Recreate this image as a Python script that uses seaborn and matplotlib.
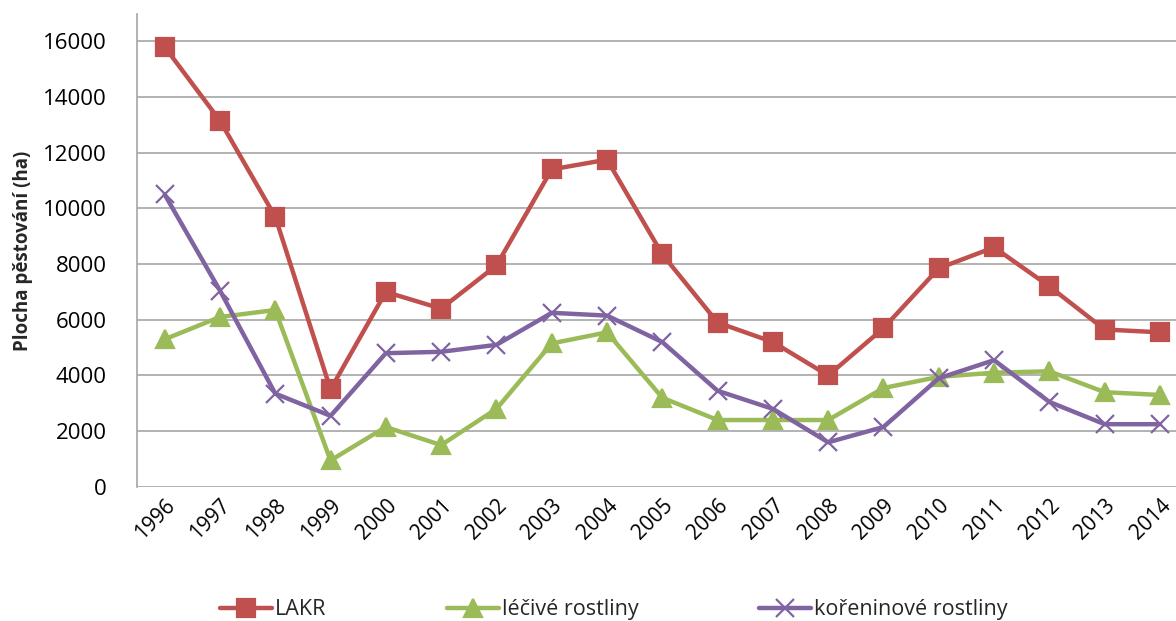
import pandas as pd
import matplotlib.pyplot as plt
import seaborn as sns

# data
years = [str(y) for y in range(1996, 2015)]
lakr = [15800, 13150, 9700, 3500, 7000, 6400, 7950, 11400, 11750, 8350,
        5900, 5200, 4000, 5700, 7850, 8600, 7200, 5650, 5550]
lecive = [5300, 6100, 6350, 950, 2150, 1500, 2800, 5150, 5550, 3200,
          2400, 2400, 2400, 3550, 3950, 4100, 4150, 3400, 3300]
koreninove = [10500, 7050, 3350, 2550, 4800, 4850, 5100, 6250, 6150, 5200,
              3450, 2800, 1600, 2150, 3900, 4550, 3050, 2250, 2250]
series_names = ["LAKR", "léčivé rostliny", "kořeninové rostliny"]
y_ticks = list(range(0, 16001, 2000))

sns.set_theme(style="white")
plt.rcParams["font.family"] = ["Open Sans", "DejaVu Sans"]

colors = {"LAKR": "#C0504D", "léčivé rostliny": "#9BBB59", "kořeninové rostliny": "#8064A2"}
marks = {"LAKR": "s", "léčivé rostliny": "^", "kořeninové rostliny": "x"}
msize = {"LAKR": 15, "léčivé rostliny": 16, "kořeninové rostliny": 17}

fig = plt.figure(figsize=(11.76, 6.21), dpi=100)
ax = fig.add_axes([0.1165, 0.216, 0.8835, 0.761])

for name, vals in zip(series_names, [lakr, lecive, koreninove]):
    df = pd.DataFrame({"rok": years, "plocha": vals})
    sns.lineplot(data=df, x="rok", y="plocha", color=colors[name], marker=marks[name],
                 markersize=msize[name], markeredgecolor=colors[name],
                 markeredgewidth=1.6, linewidth=3.2, ax=ax, sort=False, label=name)

ax.set_xlim(-0.5, 18.29)
ax.set_ylim(0, 16970)
ax.set_yticks(y_ticks)
ax.yaxis.grid(True, color="#a6a6a6", linewidth=1.2)
ax.xaxis.grid(False)
for s in ["top", "right", "bottom"]:
    ax.spines[s].set_visible(False)
ax.spines["left"].set_color("#a6a6a6")
ax.spines["left"].set_linewidth(1.2)
ax.tick_params(axis="x", length=0, labelsize=15, colors="black", pad=6)
ax.tick_params(axis="y", length=0, labelsize=16, colors="black", pad=22)
plt.setp(ax.get_xticklabels(), rotation=45, ha="right", rotation_mode="anchor")
ax.set_xlabel("")
ax.set_ylabel("Plocha pěstování (ha)", fontsize=13.5, fontweight="bold", labelpad=7)

handles, labels = ax.get_legend_handles_labels()
ax.get_legend().remove()
for h in handles:
    h.set_markersize(13)
fig.legend(handles, labels, loc="lower center", bbox_to_anchor=(0.522, -0.03),
           ncol=3, frameon=False, fontsize=15.5, handlelength=2.4,
           columnspacing=5.6, handletextpad=0.15)

plt.savefig("out.png", dpi=100)
